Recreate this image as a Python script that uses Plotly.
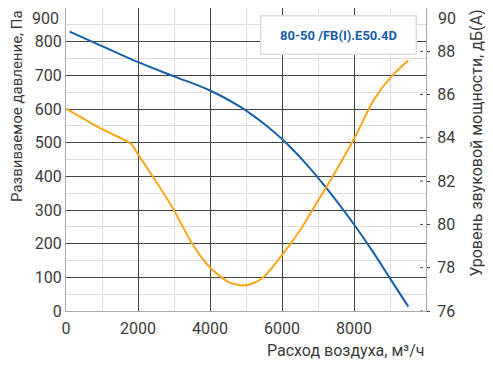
import plotly.graph_objects as go

flow_p = [100, 1000, 2000, 3000, 4000, 4833, 5111, 5500, 6036, 6600, 7241, 7981, 8500, 9000, 9509]
pressure = [830, 787, 739, 697, 655, 607, 587, 556, 507, 445, 364, 260, 180, 97, 13]

flow_s = [0, 1000, 1800, 2000, 2657, 3000, 3500, 4000, 4500, 4900, 5200, 5500, 6000, 6500, 7000, 7260, 8028, 8537, 9046, 9509]
sound = [85.35, 84.4, 83.73, 83.24, 81.58, 80.66, 79.12, 78.01, 77.35, 77.18, 77.28, 77.58, 78.58, 79.73, 81.1, 81.8, 84.04, 85.72, 86.85, 87.57]

x_ticks = [0, 2000, 4000, 6000, 8000]
x_minor = [1000, 3000, 5000, 7000, 9000]
y_ticks = [0, 100, 200, 300, 400, 500, 600, 700, 800]
y_top_label = "900"
y2_ticks = [76, 78, 80, 82, 84, 86, 88]
y2_top_label = "90"

model_name = "80-50 /FB(I).E50.4D"
x_title = "Расход воздуха, м³/ч"
y_title = "Развиваемое давление, Па"
y2_title = "Уровень звуковой мощности, дБ(А)"

FONT = "Roboto"
TXT = "#3c3c3c"
BLUE = "#1560a8"
ORANGE = "#f9a61a"

W, H = 493, 371
L, R, T, B = 58, 75, 0, 68
PW = W - L - R
PH = H - T - B

fig = go.Figure()
fig.add_trace(go.Scatter(x=flow_p, y=pressure, mode="lines", line=dict(color=BLUE, width=2, shape="spline"),
                         showlegend=False, yaxis="y"))
fig.add_trace(go.Scatter(x=flow_s, y=sound, mode="lines",
                         line=dict(color=ORANGE, width=2, shape="spline", smoothing=0.7),
                         showlegend=False, yaxis="y2"))

shapes = []
for v in y2_ticks:
    shapes.append(dict(type="line", xref="paper", yref="y2", x0=1 - 6 / PW, x1=1 - 3 / PW, y0=v, y1=v,
                       line=dict(color="#444", width=1)))

fig.update_layout(
    width=W, height=H,
    margin=dict(l=L, r=R, t=T, b=B),
    paper_bgcolor="white", plot_bgcolor="white",
    font=dict(family=FONT, color=TXT, size=15),
    xaxis=dict(range=[0, 10000], tickvals=x_ticks, ticktext=[str(v) for v in x_ticks],
               showgrid=True, gridcolor="#444", gridwidth=1,
               minor=dict(tickvals=x_minor, showgrid=True, gridcolor="#ddd", gridwidth=1),
               showline=True, linecolor="#aaa", linewidth=1, zeroline=False, ticks="", automargin=False,
               ticklabelstandoff=3,
               tickfont=dict(size=16, color=TXT)),
    yaxis=dict(range=[0, 900], tickvals=y_ticks, showgrid=True, gridcolor="#444", gridwidth=1,
               minor=dict(dtick=50, showgrid=True, gridcolor="#ddd", gridwidth=1),
               showline=True, linecolor="#aaa", linewidth=1, zeroline=False, ticks="", automargin=False,
               tickfont=dict(size=16, color=TXT)),
    yaxis2=dict(range=[76, 90], tickvals=y2_ticks, overlaying="y", side="right", showgrid=False,
                showline=True, linecolor="#aaa", linewidth=1, zeroline=False, automargin=False,
                ticks="outside", ticklen=3, tickcolor="#444", tickwidth=1, ticklabelstandoff=4,
                tickfont=dict(size=16, color=TXT)),
    shapes=shapes,
    annotations=[
        dict(text="<b>" + model_name + "</b>", xref="paper", yref="paper",
             x=0.7575, y=0.9125, xanchor="center", yanchor="middle", showarrow=False,
             font=dict(size=13, color=BLUE, family=FONT),
             bgcolor="white", bordercolor="#ddd", borderwidth=1.5,
             borderpad=11, width=132),
        dict(text=y_top_label, xref="paper", yref="paper", x=-6 / PW, y=1,
             xanchor="right", yanchor="top", showarrow=False, borderpad=0,
             font=dict(size=16, color=TXT)),
        dict(text=y2_top_label, xref="paper", yref="paper", x=1 + 11 / PW, y=1,
             xanchor="left", yanchor="top", showarrow=False, borderpad=0,
             font=dict(size=16, color=TXT)),
        dict(text=x_title, xref="paper", yref="paper", x=1, y=-39 / PH,
             xanchor="right", yanchor="middle", showarrow=False,
             font=dict(size=16, color=TXT)),
        dict(text=y_title, xref="paper", yref="paper", x=-(L - 9) / PW, y=1,
             xanchor="center", yanchor="top", textangle=-90, showarrow=False,
             font=dict(size=15, color=TXT)),
        dict(text=y2_title, xref="paper", yref="paper", x=1 + (468 - L - PW) / PW, y=1,
             xanchor="center", yanchor="top", textangle=-90, showarrow=False,
             font=dict(size=16, color=TXT)),
    ],
)

fig.write_html("out.html")
